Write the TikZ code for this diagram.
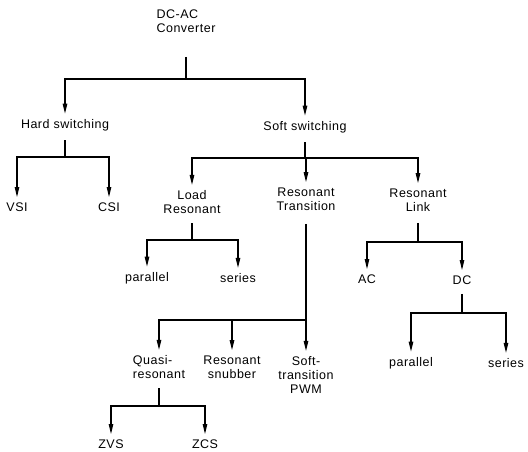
\documentclass[tikz,border=0pt]{standalone}
\usepackage{fontspec}
\setmainfont[LetterSpace=4]{Liberation Sans}
\usetikzlibrary{arrows.meta}
\tikzset{
  every picture/.style={line width=1.1pt},
  item/.style={align=center, inner sep=3pt, font=\fontsize{12.5}{14}\selectfont},
  arrow/.style={-{Triangle[length=10pt, width=4.5pt]}, shorten >=2pt},
  stem/.style={shorten <=#1},
  stem/.default=6pt,
}

\begin{document}
\begin{tikzpicture}[x=1pt, y=-1pt]
  \useasboundingbox (0,0) rectangle (528,452);
  % top levels
  \node[item, align=left] (conv) at (186,21) {DC-AC\\Converter};
  \node[item] (hard) at (65,125) {Hard switching};
  \node[item] (soft) at (305,127) {Soft switching};
  \node[item] (vsi) at (17,207) {VSI};
  \node[item] (csi) at (109,207) {CSI};
  \node[item] (load) at (192,202) {Load\\Resonant};
  \node[item] (restr) at (306,199) {Resonant\\Transition};
  \node[item] (reslink) at (418,200) {Resonant\\Link};
  % lower levels
  \node[item] (lpar) at (147,278) {parallel};
  \node[item] (lser) at (238,278) {series};
  \node[item] (ac) at (367,279) {AC};
  \node[item] (dc) at (462,280) {DC};
  \node[item] (dpar) at (411,363) {parallel};
  \node[item] (dser) at (506,363) {series};
  \node[item, align=left] (quasi) at (159,367) {Quasi-\\resonant};
  \node[item] (snub) at (232,367) {Resonant\\snubber};
  \node[item] (stpwm) at (306,375) {Soft-\\transition\\PWM};
  \node[item] (zvs) at (111,444) {ZVS};
  \node[item] (zcs) at (205,444) {ZCS};
  % junctions
  \coordinate (j-conv) at (conv |- 0,79);
  \coordinate (j-hard) at (hard |- 0,157);
  \coordinate (j-soft) at (soft |- 0,158);
  \coordinate (j-load) at (load |- 0,240);
  \coordinate (j-restr) at (restr |- 0,320);
  \coordinate (j-reslink) at (reslink |- 0,242);
  \coordinate (j-dc) at (dc |- 0,313);
  \coordinate (j-quasi) at (quasi |- 0,406);
  % connectors
  \draw[stem=21pt] (conv) -- (j-conv);
  \draw[arrow] (j-conv) -| (hard); \draw[arrow] (j-conv) -| (soft);
  \draw[stem] (hard) -- (j-hard);
  \draw[arrow] (j-hard) -| (vsi); \draw[arrow] (j-hard) -| (csi);
  \draw[stem] (soft) -- (j-soft);
  \foreach \c in {load, restr, reslink} \draw[arrow] (j-soft) -| (\c);
  \draw[stem] (load) -- (j-load);
  \draw[arrow] (j-load) -| (lpar); \draw[arrow] (j-load) -| (lser);
  \draw[stem=10pt] (restr) -- (j-restr);
  \foreach \c in {quasi, snub, stpwm} \draw[arrow] (j-restr) -| (\c);
  \draw[stem=8pt] (reslink) -- (j-reslink);
  \draw[arrow] (j-reslink) -| (ac); \draw[arrow] (j-reslink) -| (dc);
  \draw[stem] (dc) -- (j-dc);
  \draw[arrow] (j-dc) -| (dpar); \draw[arrow] (j-dc) -| (dser);
  \draw[stem] (quasi) -- (j-quasi);
  \draw[arrow] (j-quasi) -| (zvs); \draw[arrow] (j-quasi) -| (zcs);
\end{tikzpicture}
\end{document}
